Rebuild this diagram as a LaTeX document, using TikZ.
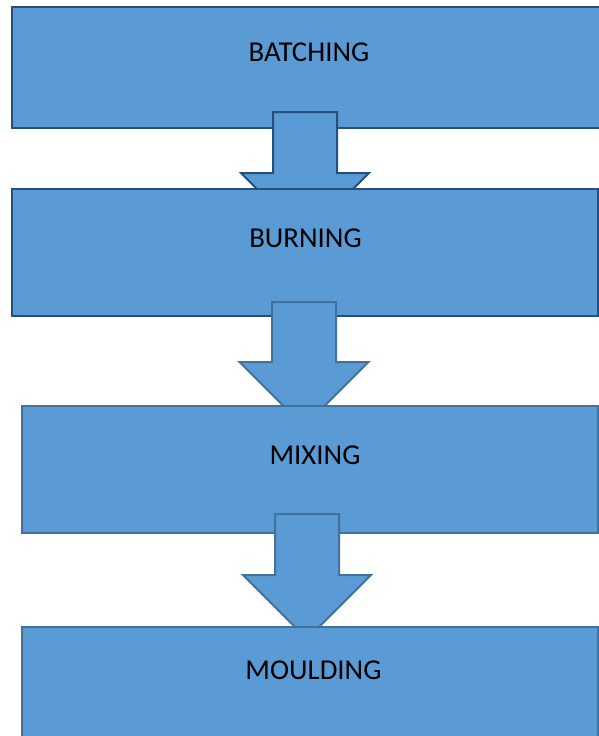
\documentclass[tikz,border=0pt]{standalone}
\usepackage{fontspec}
\setmainfont{Carlito}
\definecolor{boxfill}{HTML}{5B9BD5}
\definecolor{darkline}{HTML}{24507D}
\definecolor{lightline}{HTML}{41719C}
\tikzset{
  box/.style={rectangle, fill=boxfill, line width=2.2pt, inner sep=0pt, outer sep=0pt},
  darkbox/.style={box, draw=darkline},
  lightbox/.style={box, draw=lightline, line width=1.8pt},
  lbl/.style={font=\fontsize{28.8}{30}\selectfont, text=black, inner sep=0pt},
  blockarrow/.style={fill=boxfill, line width=2pt, line join=miter},
}
\begin{document}
\begin{tikzpicture}[x=1pt,y=-1pt]
\useasboundingbox (0,0) rectangle (599,736);
\clip (0,0) rectangle (599,736);
\fill[white] (0,0) rectangle (599,736);
% box 1
\node[darkbox, minimum width=608pt, minimum height=121pt] (b1) at (316,67.5) {};
\node[lbl] (t1) at (309,52) {BATCHING};
% arrow 1
\draw[blockarrow, draw=darkline] (273,112) -- (337,112) -- (337,173) -- (369,173) -- (305,237) -- (241,173) -- (273,173) -- cycle;
% box 2
\node[darkbox, minimum width=586pt, minimum height=127pt] (b2) at (305,252.5) {};
\node[lbl] (t2) at (305.5,238.5) {BURNING};
% arrow 2
\draw[blockarrow, draw=lightline] (272,302) -- (336,302) -- (336,362) -- (368.5,362) -- (304,426.5) -- (239.5,362) -- (272,362) -- cycle;
% box 3
\node[lightbox, minimum width=576pt, minimum height=127pt] (b3) at (310,469.5) {};
\node[lbl] (t3) at (315,455) {MIXING};
% arrow 3
\draw[blockarrow, draw=lightline] (275,514) -- (339,514) -- (339,575) -- (371,575) -- (307,639) -- (243,575) -- (275,575) -- cycle;
% box 4
\node[lightbox, minimum width=576pt, minimum height=133pt] (b4) at (310,693.5) {};
\node[lbl] (t4) at (313.5,670) {MOULDING};
\end{tikzpicture}
\end{document}
